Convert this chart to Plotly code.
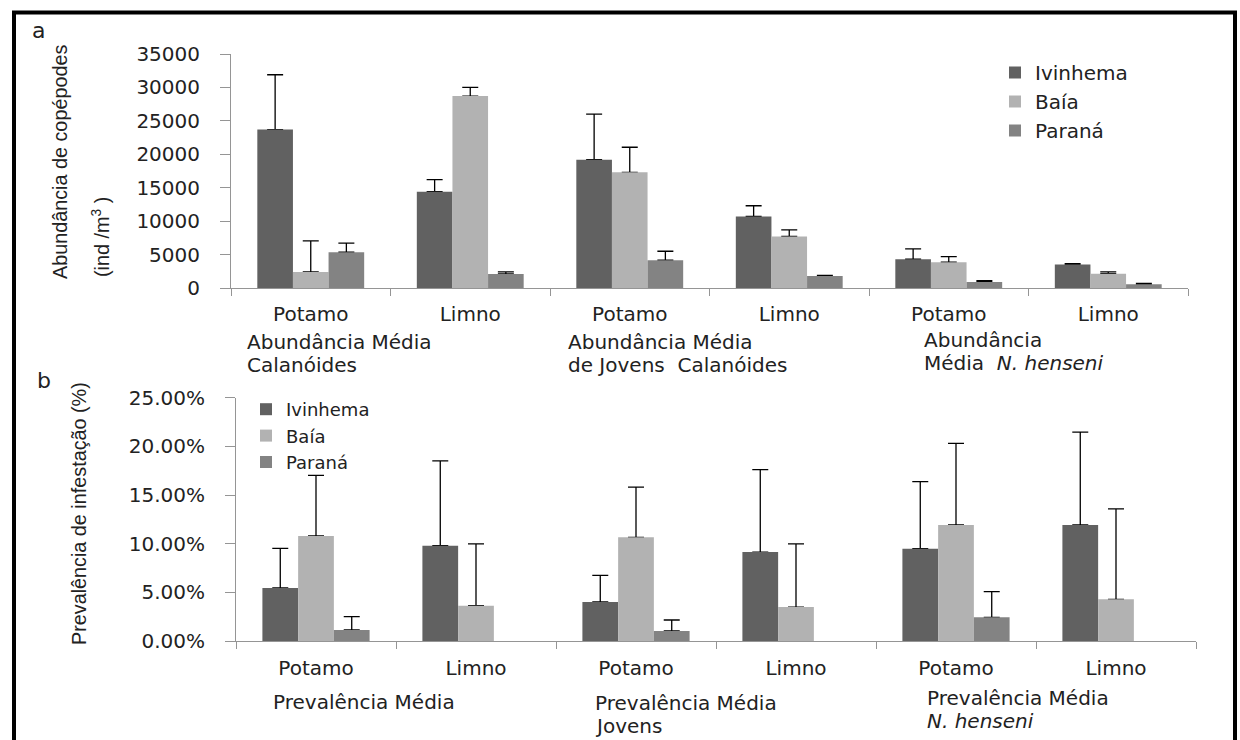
import plotly.graph_objects as go

# ---- data -------------------------------------------------------------
categories = ["Potamo", "Limno", "Potamo", "Limno", "Potamo", "Limno"]
sites = ["Ivinhema", "Baía", "Paraná"]

# (a) mean copepod abundance (ind/m3) and upper error
abund_ivinhema = [23700, 14400, 19200, 10700, 4300, 3500]
abund_ivinhema_err = [8200, 1800, 6800, 1600, 1550, 150]
abund_baia = [2400, 28700, 17300, 7700, 3850, 2150]
abund_baia_err = [4650, 1300, 3750, 1000, 850, 250]
abund_parana = [5350, 2100, 4150, 1800, 900, 550]
abund_parana_err = [1350, 300, 1350, 100, 200, 150]

# (b) mean infestation prevalence (fraction) and upper error; None = no data
prev_ivinhema = [0.0545, 0.0980, 0.0401, 0.0914, 0.0949, 0.1192]
prev_ivinhema_err = [0.0407, 0.0870, 0.0274, 0.0846, 0.0688, 0.0955]
prev_baia = [0.1079, 0.0363, 0.1065, 0.0349, 0.1192, 0.0428]
prev_baia_err = [0.0623, 0.0634, 0.0517, 0.0648, 0.0839, 0.0930]
prev_parana = [0.0113, None, 0.0103, None, 0.0243, None]
prev_parana_err = [0.0137, None, 0.0113, None, 0.0264, None]

abund_ticks = [0, 5000, 10000, 15000, 20000, 25000, 30000, 35000]
prev_ticks = [0, 0.05, 0.10, 0.15, 0.20, 0.25]

# ---- styling ----------------------------------------------------------
W, H = 1240, 740
colors = ["#616161", "#b2b2b2", "#838383"]
axis_grey = "#959595"
text_col = "#222222"
FONT = "DejaVu Sans"
TITLE_FONT = "Liberation Sans, Arial, sans-serif"
positions = list(range(len(categories)))
boundaries = [p - 0.5 for p in positions] + [positions[-1] + 0.5]


def fx(px):
    return px / W


def fy(px):
    return 1 - px / H


fig = go.Figure()

panels = [
    ("x", "x3", "y", "legend",
     [abund_ivinhema, abund_baia, abund_parana],
     [abund_ivinhema_err, abund_baia_err, abund_parana_err]),
    ("x2", "x4", "y2", "legend2",
     [prev_ivinhema, prev_baia, prev_parana],
     [prev_ivinhema_err, prev_baia_err, prev_parana_err]),
]

for xa, xa_over, ya, leg, values, errors in panels:
    # error bars live on the base axis, the filled bars on the overlaid axis,
    # so each error bar rises from its bar top without a foot drawn over the bar
    for name, vals, errs in zip(sites, values, errors):
        fig.add_trace(go.Bar(
            x=positions, y=vals, xaxis=xa, yaxis=ya,
            marker=dict(color="rgba(0,0,0,0)", line=dict(width=0)),
            error_y=dict(type="data", symmetric=False, array=errs,
                         arrayminus=[0 if e is not None else None for e in errs],
                         color="black", thickness=1.3, width=8),
            showlegend=False, hoverinfo="skip",
        ))
    for name, col, vals in zip(sites, colors, values):
        fig.add_trace(go.Bar(
            x=positions, y=vals, xaxis=xa_over, yaxis=ya, name=name,
            marker=dict(color=col, line=dict(width=0)),
            legend=leg,
        ))

x_common = dict(
    range=[-0.5, len(categories) - 0.5], tickmode="array",
    tickvals=positions, ticktext=categories, ticks="",
    showline=True, linecolor=axis_grey, linewidth=1,
    showgrid=False, zeroline=False,
    tickfont=dict(family=FONT, size=20, color=text_col),
    minor=dict(tickmode="array", tickvals=boundaries, ticks="outside",
               ticklen=7, tickcolor=axis_grey, tickwidth=1, showgrid=False),
)
y_common = dict(
    showline=True, linecolor=axis_grey, linewidth=1,
    ticks="outside", ticklen=10, tickcolor=axis_grey,
    showgrid=False, zeroline=False, tickmode="array",
    tickfont=dict(family=FONT, size=20, color=text_col),
    ticklabelstandoff=16,
)

fig.update_layout(
    width=W, height=H,
    margin=dict(l=0, r=0, t=0, b=0, autoexpand=False),
    paper_bgcolor="white", plot_bgcolor="white",
    barmode="group", bargap=0.33, bargroupgap=0,
    xaxis=dict(x_common, domain=[fx(231), fx(1188)], anchor="y",
               ticklabelstandoff=8),
    xaxis3=dict(range=[-0.5, len(categories) - 0.5], overlaying="x",
                anchor="y", visible=False),
    yaxis=dict(y_common, domain=[fy(288), fy(54)], anchor="x",
               range=[0, 35000], tickvals=abund_ticks, tickformat="d"),
    xaxis2=dict(x_common, domain=[fx(236), fx(1196)], anchor="y2",
                ticklabelstandoff=9),
    xaxis4=dict(range=[-0.5, len(categories) - 0.5], overlaying="x2",
                anchor="y2", visible=False),
    yaxis2=dict(y_common, domain=[fy(641), fy(397.7)], anchor="x2",
                range=[0, 0.25], tickvals=prev_ticks, tickformat=".2%"),
    legend=dict(x=fx(995), y=fy(53), xanchor="left", yanchor="top",
                font=dict(family=FONT, size=20, color=text_col),
                bgcolor="rgba(0,0,0,0)", tracegroupgap=0),
    legend2=dict(x=fx(246), y=fy(391), xanchor="left", yanchor="top",
                 font=dict(family=FONT, size=18, color=text_col),
                 bgcolor="rgba(0,0,0,0)", tracegroupgap=0),
    showlegend=True,
)

# ---- text labels ------------------------------------------------------
def label(text, x, y, size=20, xanchor="left", yanchor="middle", angle=0,
          family=FONT):
    fig.add_annotation(text=text, x=fx(x), y=fy(y), xref="paper", yref="paper",
                       xanchor=xanchor, yanchor=yanchor, textangle=angle,
                       showarrow=False,
                       font=dict(family=family, size=size, color=text_col))


label("a", 39, 30, size=22, xanchor="center")
label("b", 44, 380, size=22, xanchor="center")

label("Abundância de copépodes", 60, 281, size=19.8, xanchor="center",
      yanchor="bottom", angle=-90, family=TITLE_FONT)
label("(ind /m<sup>3</sup> )", 100, 279, size=19.8, xanchor="center",
      yanchor="bottom", angle=-90, family=TITLE_FONT)
label("Prevalência de infestação (%)", 79, 514, size=19.8, xanchor="center",
      yanchor="middle", angle=-90, family=TITLE_FONT)

label("Abundância Média", 245, 342)
label("Calanóides", 245, 365)
label("Abundância Média", 566, 342)
label("de Jovens\u00a0 Calanóides", 566, 365)
label("Abundância", 922, 340)
label("Média\u00a0 <i>N. henseni</i>", 922, 363)

label("Prevalência Média", 271, 702)
label("Prevalência Média", 593, 703)
label("Jovens", 593, 726)
label("Prevalência Média", 925, 698)
label("<i>N. henseni</i>", 925, 721)

# outer frame
fig.add_shape(type="rect", xref="paper", yref="paper",
              x0=fx(14), x1=fx(1235), y0=-0.05, y1=fy(12.5),
              line=dict(color="black", width=4), fillcolor="rgba(0,0,0,0)")

fig.write_html("out.html")
